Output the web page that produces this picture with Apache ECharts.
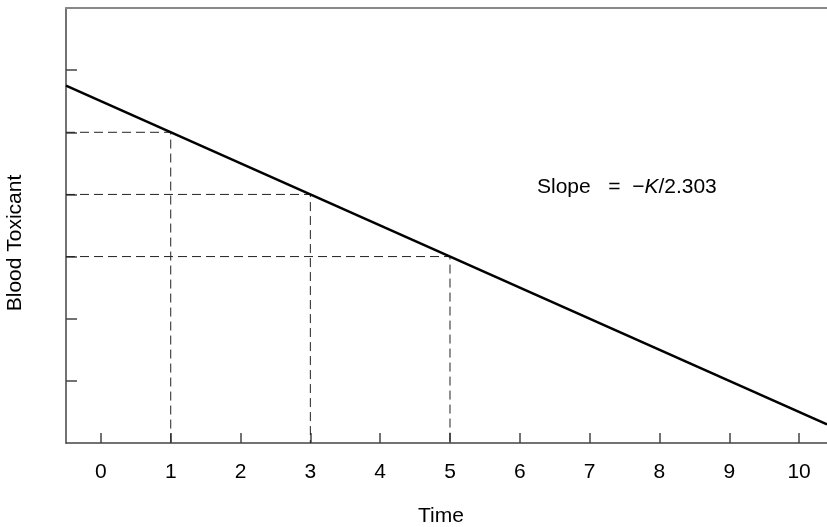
<!DOCTYPE html>
<html>
<head>
<meta charset="utf-8">
<script src="https://cdn.jsdelivr.net/npm/echarts@6/dist/echarts.min.js"></script>
<style>
	html, body { margin: 0; padding: 0; background: #fff; }
	#chart { width: 827px; height: 527px; }
</style>
</head>
<body>
<div id="chart"></div>
<script>
// tick values on the time axis
var timeTicks = [0, 1, 2, 3, 4, 5, 6, 7, 8, 9, 10];
// unlabelled ticks on the blood toxicant axis
var levelTicks = [1, 2, 3, 4, 5, 6];

// straight line (log scale) end points
var lineX = [-0.5, 10.4];
var lineY = [5.75, 0.3];

// dashed read-off guides
var dropX = [1, 3, 5];
var dropY = [5, 4, 3];

var FONT = 'Liberation Sans, Arial, Helvetica, sans-serif';

var chart = echarts.init(document.getElementById('chart'));

var series = [];

dropX.forEach(function(x, i)
{
	series.push({
		type: 'line',
		data: [[lineX[0], dropY[i]], [x, dropY[i]], [x, 0]],
		symbol: 'none',
		silent: true,
		z: 2,
		lineStyle: { color: '#222', width: 1, type: [9, 5] }
	});
});

series.push({
	type: 'line',
	data: lineX.map(function(x, i) { return [x, lineY[i]]; }),
	symbol: 'none',
	silent: true,
	z: 5,
	lineStyle: { color: '#000', width: 2.5 }
});

var options =
{
	animation: false,
	grid: { left: 66, top: 8, right: 0, bottom: 84, containLabel: false },
	xAxis: [{
		type: 'value',
		min: -0.5,
		max: 10.4,
		splitLine: { show: false },
		axisLine: { onZero: false, lineStyle: { color: '#444', width: 1.5 } },
		axisTick: { inside: true, length: 10, customValues: timeTicks, lineStyle: { color: '#444', width: 1.5 } },
		axisLabel: { customValues: timeTicks, margin: 19, color: '#000', fontSize: 21, fontFamily: FONT }
	}, {
		type: 'value',
		position: 'top',
		min: -0.5,
		max: 10.4,
		splitLine: { show: false },
		axisLine: { onZero: false, lineStyle: { color: '#888', width: 2 } },
		axisTick: { show: false },
		axisLabel: { show: false }
	}],
	yAxis: {
		type: 'value',
		min: 0,
		max: 7,
		interval: 1,
		splitLine: { show: false },
		axisLine: { show: true, onZero: false, lineStyle: { color: '#444', width: 1.5 } },
		axisTick: { inside: true, length: 11, customValues: levelTicks, lineStyle: { color: '#444', width: 1.5 } },
		axisLabel: { show: false }
	},
	series: series,
	graphic: [
		{
			type: 'text',
			x: 15, y: 243,
			rotation: Math.PI / 2,
			style: { text: 'Blood Toxicant', fill: '#000', font: '21px ' + FONT, align: 'center', verticalAlign: 'middle' }
		},
		{
			type: 'text',
			x: 441, y: 516,
			style: { text: 'Time', fill: '#000', font: '21px ' + FONT, align: 'center', verticalAlign: 'middle' }
		},
		{
			type: 'text',
			x: 537, y: 187,
			style: {
				text: '{n|Slope   =  \u2212}{k|K}{n|/2.303}',
				verticalAlign: 'middle',
				rich: {
					n: { fontSize: 21, fontFamily: FONT, fill: '#000' },
					k: { fontSize: 21, fontFamily: FONT, fontStyle: 'italic', fill: '#000' }
				}
			}
		}
	]
};

chart.setOption(options);
</script>
</body>
</html>
